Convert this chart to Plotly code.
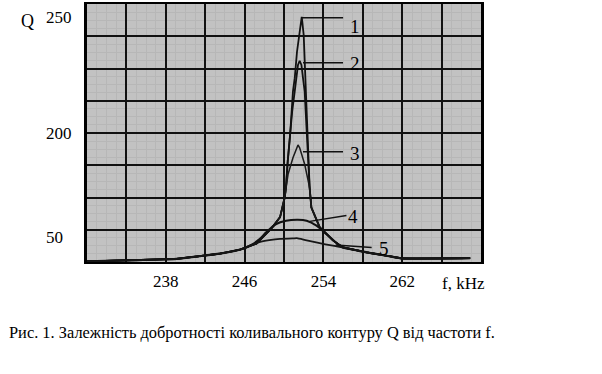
import plotly.graph_objects as go

# ---- data (x: frequency, kHz; y: position on the chart's Q scale, in grid cells) ----
WING_LEFT_F = [230.0, 233.0, 236.6, 239.1, 241.4, 243.5, 245.5, 246.7]
WING_LEFT_Q = [0.02, 0.04, 0.07, 0.10, 0.18, 0.26, 0.38, 0.53]
WING_RIGHT_F = [256.0, 258.4, 260.7, 262.0, 268.9]
WING_RIGHT_Q = [0.45, 0.30, 0.18, 0.11, 0.12]

SHARED_LOW_LEFT_F = [247.2, 248.7, 249.6, 250.07, 250.2]
SHARED_LOW_LEFT_Q = [0.57, 1.03, 1.39, 2.00, 2.31]
SHARED_LOW_RIGHT_F = [252.6, 252.78, 253.62, 254.97]
SHARED_LOW_RIGHT_Q = [2.31, 1.69, 1.08, 0.67]

C1_F = [250.38, 250.61, 250.91, 251.09, 251.32, 251.52, 251.8, 252.0, 252.1, 252.23, 252.36, 252.51]
C1_Q = [3.13, 3.90, 5.29, 5.70, 6.52, 7.04, 7.60, 7.04, 6.32, 5.44, 4.06, 3.13]

C2_F = [250.38, 250.58, 250.83, 251.09, 251.26, 251.42, 251.59, 251.77, 251.93, 252.10, 252.20, 252.32, 252.51]
C2_Q = [3.13, 3.90, 4.67, 5.29, 5.70, 6.11, 6.24, 6.11, 5.70, 5.29, 4.67, 3.90, 3.13]

C3_F = [250.41, 250.91, 251.42, 251.59, 252.10]
C3_Q = [2.72, 3.23, 3.63, 3.54, 3.03]

C4_F = [247.5, 248.2, 249.2, 250.2, 251.4, 252.3, 253.3, 254.3, 255.6]
C4_Q = [0.70, 0.92, 1.18, 1.28, 1.31, 1.28, 1.13, 0.87, 0.52]

C5_F = [247.5, 248.5, 249.6, 250.9, 251.3, 252.3, 254.2]
C5_Q = [0.62, 0.68, 0.72, 0.73, 0.74, 0.67, 0.55]

CURVE_NAMES = ["1", "2", "3", "4", "5"]
X_GRID = [230, 234, 238, 242, 246, 250, 254, 258, 262, 266, 270]
X_TICK_TEXT = ["", "", "238", "", "246", "", "254", "", "262", "", ""]
Y_GRID = [0, 1, 2, 3, 4, 5, 6, 7, 8]
Y_LABELS = ["250", "200", "50"]
Y_LABEL_POS = [7.57, 4.0, 0.76]
X_TITLE = "f, kHz"
Y_TITLE = "Q"
CAPTION = "Рис. 1. Залежність добротності коливального контуру Q від частоти f."

# label anchors for curve numbers: (leader start, leader end, label position)
LEADERS = {
    "1": ((251.77, 7.57), (256.0, 7.57), (257.18, 7.29)),
    "2": ((251.93, 6.18), (255.99, 6.18), (257.18, 6.15)),
    "3": ((251.93, 3.42), (255.99, 3.42), (257.18, 3.38)),
    "4": ((252.61, 1.26), (256.34, 1.44), (256.97, 1.41)),
    "5": ((255.25, 0.53), (258.90, 0.45), (260.12, 0.42)),
}


def full(mid_f, mid_q, low=True):
    if low:
        f = WING_LEFT_F + SHARED_LOW_LEFT_F + mid_f + SHARED_LOW_RIGHT_F + WING_RIGHT_F
        q = WING_LEFT_Q + SHARED_LOW_LEFT_Q + mid_q + SHARED_LOW_RIGHT_Q + WING_RIGHT_Q
    else:
        f = WING_LEFT_F + mid_f + WING_RIGHT_F
        q = WING_LEFT_Q + mid_q + WING_RIGHT_Q
    return f, q


series = [
    (full(C1_F, C1_Q), 1.8, "#111111", "linear"),
    (full(C2_F, C2_Q), 1.8, "#111111", "linear"),
    (full(C3_F, C3_Q), 1.5, "#1a1a1a", "linear"),
    (full(C4_F, C4_Q, low=False), 2.2, "#111111", "spline"),
    (full(C5_F, C5_Q, low=False), 1.8, "#161616", "spline"),
]

fig = go.Figure()
for name, ((fx, qy), w, col, shape) in zip(CURVE_NAMES, series):
    fig.add_trace(go.Scatter(
        x=fx, y=qy, mode="lines", name=name,
        line=dict(color=col, width=w, shape=shape, smoothing=0.6 if shape == "spline" else None),
        showlegend=False, hoverinfo="skip",
    ))

SERIF = "Liberation Serif, Times New Roman, serif"

for name in CURVE_NAMES:
    (x0, y0), (x1, y1), (lx, ly) = LEADERS[name]
    fig.add_shape(type="line", x0=x0, y0=y0, x1=x1, y1=y1, xref="x", yref="y",
                  line=dict(color="#111111", width=1.5))
    fig.add_annotation(x=lx, y=ly, xref="x", yref="y", text=name, showarrow=False,
                       font=dict(family=SERIF, size=19, color="#000000"))

for txt, pos in zip(Y_LABELS, Y_LABEL_POS):
    fig.add_annotation(x=-0.110, y=pos, xref="paper", yref="y", text=txt,
                       showarrow=False, xanchor="left", yanchor="middle",
                       font=dict(family=SERIF, size=17, color="#000000"))

fig.add_annotation(x=-0.1505, y=0.935, xref="paper", yref="paper", text=Y_TITLE,
                   showarrow=False, xanchor="center", yanchor="middle",
                   font=dict(family=SERIF, size=18, color="#000000"))
fig.add_annotation(x=0.9556, y=-0.082, xref="paper", yref="paper", text=X_TITLE,
                   showarrow=False, xanchor="center", yanchor="middle",
                   font=dict(family=SERIF, size=17, color="#000000"))
fig.add_annotation(x=-0.2038, y=-0.2745, xref="paper", yref="paper", text=CAPTION,
                   showarrow=False, xanchor="left", yanchor="middle",
                   font=dict(family=SERIF, size=16.4, color="#000000"))

fig.update_xaxes(
    range=[230, 270], tickmode="array", tickvals=X_GRID, ticktext=X_TICK_TEXT,
    showgrid=True, gridcolor="#111111", gridwidth=2,
    showline=True, linecolor="#000000", linewidth=2, mirror=True,
    zeroline=False, ticks="", ticklabelstandoff=3,
    tickfont=dict(family=SERIF, size=17, color="#000000"),
    minor=dict(dtick=1, tick0=230, showgrid=True, gridcolor="#b7b7b7", gridwidth=1),
)
fig.update_yaxes(
    range=[0, 8], tickmode="array", tickvals=Y_GRID, ticktext=[""] * len(Y_GRID),
    showgrid=True, gridcolor="#111111", gridwidth=2,
    showline=True, linecolor="#000000", linewidth=3, mirror=True,
    zeroline=False, ticks="",
    minor=dict(dtick=0.25, tick0=0, showgrid=True, gridcolor="#b7b7b7", gridwidth=1),
)

fig.update_layout(
    width=602, height=374,
    margin=dict(l=87, r=121, t=2, b=112),
    paper_bgcolor="#ffffff", plot_bgcolor="#c2c2c2",
    showlegend=False,
)

fig.write_html("out.html", config={"displayModeBar": False},
               post_script="document.body.style.margin='0';")
